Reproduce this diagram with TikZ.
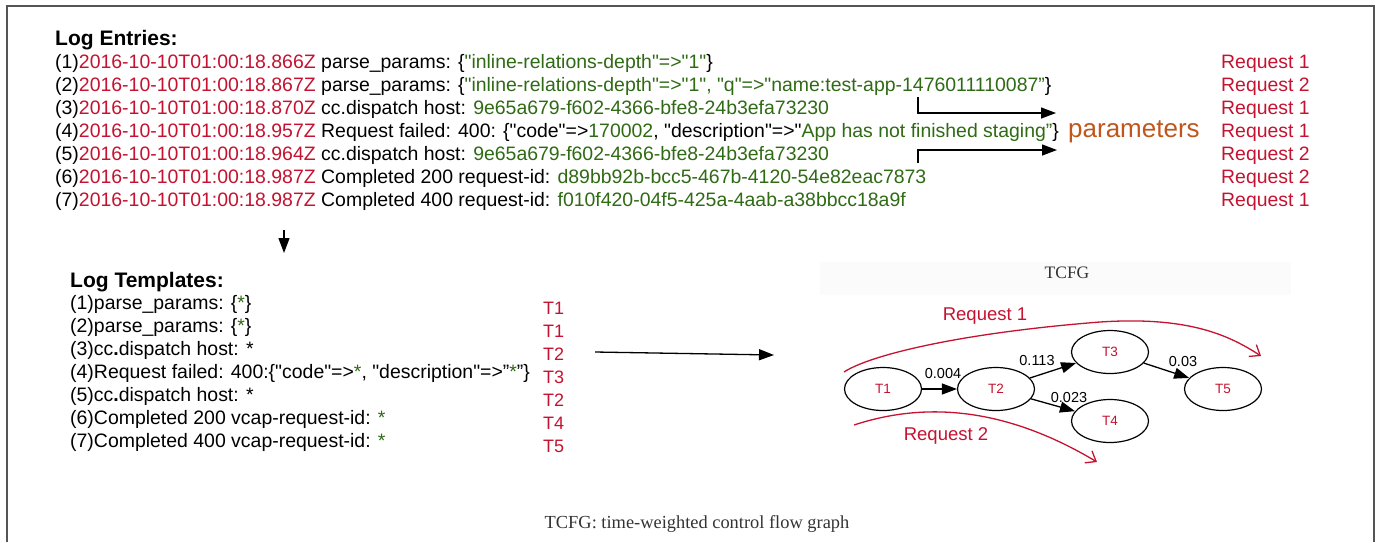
\documentclass[tikz,border=0pt]{standalone}
\usepackage{fontspec}
\setmainfont{Liberation Sans}[Ligatures=TeXOff]
\newfontfamily\capfont{Liberation Serif}
\usetikzlibrary{arrows.meta,shapes.geometric}

\definecolor{tred}{HTML}{C41230}
\definecolor{tgreen}{HTML}{2F6A14}
\definecolor{torange}{HTML}{C0561C}
\definecolor{frame}{HTML}{555555}
\definecolor{captxt}{HTML}{333333}

\newcommand\fsz[1]{\fontsize{#1}{#1}\selectfont}
\newcommand\rd[1]{\textcolor{tred}{#1}}
\newcommand\gr[1]{\textcolor{tgreen}{#1}}

\tikzset{
  logline/.style={anchor=base west, inner sep=0pt, font=\fsz{19.45}},
  heading/.style={anchor=base west, inner sep=0pt, font=\fsz{21}\bfseries},
  reqtag/.style={anchor=base west, inner sep=0pt, font=\fsz{19.4}, text=tred},
  tmpltag/.style={anchor=base west, inner sep=0pt, font=\fsz{18}, text=tred},
  state/.style={ellipse, draw, line width=1.2pt, minimum width=77pt,
    minimum height=43pt, inner sep=0pt, text=tred, font=\fsz{13.5}},
  weight/.style={inner sep=0pt, font=\fsz{14.5}},
  flow/.style={line width=1.3pt, -{Triangle[length=15pt,width=11pt]}},
  reqpath/.style={draw=tred, line width=1.3pt,
    -{Straight Barb[length=9pt,width=14pt,line width=1.3pt]}},
}

\begin{document}
\begin{tikzpicture}[x=1pt,y=-1pt]
\useasboundingbox (0,0) rectangle (1380,542);

% frame around the figure
\draw[frame, line width=1.2pt] (7,542) -- (7,6) -- (1374,6) -- (1374,542);

% ---------------- log entries ----------------
\node[heading] (hentries) at (55,45) {Log Entries:};
\node[logline] (e1) at (55,68.5) {(1)\rd{2016-10-10T01:00:18.866Z} parse\_params: \{\gr{"inline-relations-depth"=>"1"}\}};
\node[logline] (e2) at (55,91.5) {(2)\rd{2016-10-10T01:00:18.867Z} parse\_params: \{\gr{"inline-relations-depth"=>"1", "q"=>"name:test-app-1476011110087”}\}};
\node[logline] (e3) at (55,114.5) {(3)\rd{2016-10-10T01:00:18.870Z} cc.dispatch host: \gr{9e65a679-f602-4366-bfe8-24b3efa73230}};
\node[logline] (e4) at (55,137.5) {(4)\rd{2016-10-10T01:00:18.957Z} Request failed: 400: \{"code"=>\gr{170002}, "description"=>"\gr{App has not finished staging”}\}};
\node[logline] (e5) at (55,160.5) {(5)\rd{2016-10-10T01:00:18.964Z} cc.dispatch host: \gr{9e65a679-f602-4366-bfe8-24b3efa73230}};
\node[logline] (e6) at (55,183.5) {(6)\rd{2016-10-10T01:00:18.987Z} Completed 200 request-id: \gr{d89bb92b-bcc5-467b-4120-54e82eac7873}};
\node[logline] (e7) at (55,206.5) {(7)\rd{2016-10-10T01:00:18.987Z} Completed 400 request-id: \gr{f010f420-04f5-425a-4aab-a38bbcc18a9f}};

% request each entry belongs to
\node[reqtag] (r1) at (1221,68.5) {Request 1};
\node[reqtag] (r2) at (1221,91.5) {Request 2};
\node[reqtag] (r3) at (1221,114.5) {Request 1};
\node[reqtag] (r4) at (1221,137.5) {Request 1};
\node[reqtag] (r5) at (1221,160.5) {Request 2};
\node[reqtag] (r6) at (1221,183.5) {Request 2};
\node[reqtag] (r7) at (1221,206.5) {Request 1};

% parameter callout
\node[anchor=base west, inner sep=0pt, font=\fsz{26}, text=torange] (params) at (1068,137.5) {parameters};
\coordinate (pa1) at (918,97);
\coordinate (pa1c) at (918,113);
\coordinate (pa1e) at (1056,113);
\coordinate (pa2) at (918,163);
\coordinate (pa2c) at (918,150);
\coordinate (pa2e) at (1057,150);
\draw[flow] (pa1) -- (pa1c) -- (pa1e);
\draw[flow] (pa2) -- (pa2c) -- (pa2e);

% entries -> templates
\coordinate (down0) at (284,230);
\coordinate (down1) at (284,253);
\draw[flow] (down0) -- (down1);

% ---------------- log templates ----------------
\node[heading] (htemplates) at (70,287) {Log Templates:};
\node[logline] (p1) at (70,309) {(1)parse\_params: \{\gr{*}\}};
\node[logline] (p2) at (70,332) {(2)parse\_params: \{\gr{*}\}};
\node[logline] (p3) at (70,355) {(3)cc\textbf{.}dispatch host: *};
\node[logline] (p4) at (70,378) {(4)Request failed: 400:\{"code"=>\gr{*}, "description"=>”\gr{*}”\}};
\node[logline] (p5) at (70,401) {(5)cc\textbf{.}dispatch host: *};
\node[logline] (p6) at (70,424) {(6)Completed 200 vcap-request-id: \gr{*}};
\node[logline] (p7) at (70,447) {(7)Completed 400 vcap-request-id: \gr{*}};

\node[tmpltag] (k1) at (543,314) {T1};
\node[tmpltag] (k2) at (543,337) {T1};
\node[tmpltag] (k3) at (543,360) {T2};
\node[tmpltag] (k4) at (543,383) {T3};
\node[tmpltag] (k5) at (543,406) {T2};
\node[tmpltag] (k6) at (543,429) {T4};
\node[tmpltag] (k7) at (543,452) {T5};

% templates -> graph
\coordinate (right0) at (595,352);
\coordinate (right1) at (774,355);
\draw[flow] (right0) -- (right1);

% ---------------- TCFG ----------------
\fill[black!1.5] (820,262) rectangle (1291,295);
\node[inner sep=0pt, anchor=base, font=\capfont\fsz{17.5}, text=captxt] (title) at (1067,278) {TCFG};

\node[state] (t1) at (883,389) {T1};
\node[state] (t2) at (996,389) {T2};
\node[state] (t3) at (1110,352) {T3};
\node[state] (t4) at (1110,421) {T4};
\node[state] (t5) at (1223,389) {T5};

\draw[flow] (t1) -- (t2);
\draw[flow] (t2) -- (t3);
\draw[flow] (t2) -- (t4);
\draw[flow] (t3) -- (t5);

\node[weight] (w12) at (943,373) {0.004};
\node[weight] (w23) at (1037,360) {0.113};
\node[weight] (w24) at (1069,397) {0.023};
\node[weight] (w35) at (1183,361) {0.03};

% request paths through the graph
\node[anchor=base, inner sep=0pt, font=\fsz{18.5}, text=tred] (req1) at (985,320) {Request 1};
\node[anchor=base, inner sep=0pt, font=\fsz{18.5}, text=tred] (req2) at (946,440) {Request 2};
\coordinate (q1s) at (844,372);
\coordinate (q1m) at (1100,322);
\coordinate (q1e) at (1261,356);
\draw[reqpath] (q1s) .. controls (870,355) and (960,333) .. (q1m)
                     .. controls (1190,316) and (1230,336) .. (q1e);
\coordinate (q2s) at (854,425);
\coordinate (q2e) at (1097,462);
\draw[reqpath] (q2s) .. controls (930,400) and (1010,410) .. (q2e);

% caption
\node[inner sep=0pt, anchor=base, font=\capfont\fsz{18.4}, text=captxt] (caption) at (697,528) {TCFG: time-weighted control flow graph};
\end{tikzpicture}
\end{document}
